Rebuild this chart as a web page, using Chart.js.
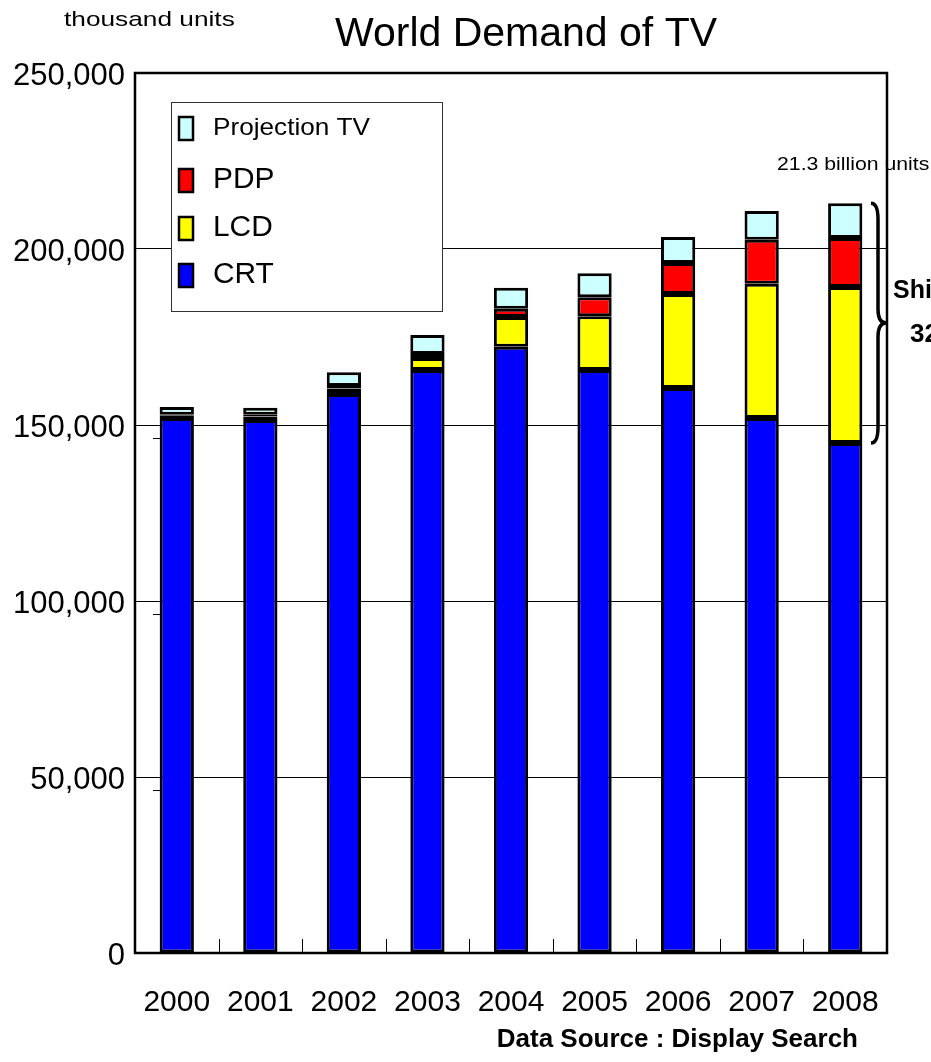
<!DOCTYPE html>
<html>
<head>
<meta charset="utf-8">
<script src="https://cdn.jsdelivr.net/npm/chart.js@4.4.1/dist/chart.umd.min.js"></script>
<style>
  html, body { margin: 0; padding: 0; background: #fff; }
  #grafico { display: block; }
</style>
</head>
<body>
<canvas id="grafico" width="931" height="1062"></canvas>
<script>
// Dados (mil unidades)
const anos = ["2000", "2001", "2002", "2003", "2004", "2005", "2006", "2007", "2008"]
const crt = [152000, 151400, 158800, 165600, 172200, 165600, 160500, 152000, 144900]
const lcd = [600, 1000, 1600, 3400, 8500, 15300, 26700, 38100, 44300]
const pdp = [300, 500, 700, 1200, 2300, 5400, 8800, 12500, 13900]
const projecao = [2200, 2000, 3900, 5400, 6000, 6800, 7400, 8200, 9900]
const yTicks = [0, 50000, 100000, 150000, 200000, 250000]

const fonte = "'Liberation Sans', Arial, sans-serif"

// texto um pouco mais largo, como no original
function textoLargo(ctx, str, x, y, font, sx) {
  ctx.save()
  ctx.font = font
  ctx.translate(x, y)
  ctx.scale(sx, 1)
  ctx.fillText(str, 0, 0)
  ctx.restore()
}

// Titulo, legenda e anotacoes desenhados a mao
const extras = {
  id: "extras",
  afterDraw(chart) {
    const ctx = chart.ctx
    const area = chart.chartArea
    const x = chart.scales.x
    const y = chart.scales.y
    ctx.save()

    // marcas pequenas entre categorias
    ctx.strokeStyle = "#000"
    ctx.lineWidth = 1
    for (let i = 1; i < anos.length; i++) {
      const xm = Math.round((x.getPixelForTick(i - 1) + x.getPixelForTick(i)) / 2) + 0.5
      ctx.beginPath()
      ctx.moveTo(xm, area.bottom)
      ctx.lineTo(xm, area.bottom - 14)
      ctx.stroke()
    }
    // tracinhos do eixo y
    yTicks.slice(1, 4).forEach(v => {
      const yy = Math.round(y.getPixelForValue(v)) + 13.5
      ctx.beginPath()
      ctx.moveTo(area.left + 18, yy)
      ctx.lineTo(area.left + 25, yy)
      ctx.stroke()
    })

    // titulo e unidade
    ctx.fillStyle = "#000"
    ctx.textBaseline = "middle"
    ctx.textAlign = "center"
    ctx.font = "41px " + fonte
    ctx.fillText("World Demand of TV", 526, 35)
    ctx.textAlign = "left"
    textoLargo(ctx, "thousand units", 64, 20, "21px " + fonte, 1.25)

    // legenda
    const lx = area.left + 36, ly = area.top + 29, lw = 271, lh = 209
    ctx.fillStyle = "#fff"
    ctx.fillRect(lx, ly, lw, lh)
    ctx.strokeStyle = "#333"
    ctx.lineWidth = 1
    ctx.strokeRect(lx + 0.5, ly + 0.5, lw, lh)
    const itens = chart.data.datasets.slice().reverse()
    const linhas = [26, 78, 126, 173]
    itens.forEach((ds, i) => {
      const cy = ly + linhas[i]
      ctx.fillStyle = ds.backgroundColor
      ctx.fillRect(lx + 8, cy - 11, 14, 23)
      ctx.strokeStyle = "#000"
      ctx.lineWidth = 2.5
      ctx.strokeRect(lx + 8, cy - 11, 14, 23)
      ctx.fillStyle = "#000"
      ctx.textAlign = "left"
      if (i === 0) textoLargo(ctx, ds.label, lx + 42, cy, "24px " + fonte, 1.09)
      else textoLargo(ctx, ds.label, lx + 42, cy, "29px " + fonte, 1.03)
    })

    // anotacao do total de 2008
    const ult = anos.length - 1
    const topo = y.getPixelForValue(crt[ult] + lcd[ult] + pdp[ult] + projecao[ult])
    const base = y.getPixelForValue(crt[ult])
    ctx.fillStyle = "#000"
    textoLargo(ctx, "21.3 billion units", 777, topo - 38, "18px " + fonte, 1.18)

    // chave
    const meio = (topo + base) / 2
    const bx = area.right - 9
    ctx.strokeStyle = "#000"
    ctx.lineWidth = 3.5
    ctx.beginPath()
    ctx.moveTo(bx - 7, topo)
    ctx.quadraticCurveTo(bx, topo, bx, topo + 16)
    ctx.lineTo(bx, meio - 14)
    ctx.quadraticCurveTo(bx, meio, bx + 8, meio)
    ctx.quadraticCurveTo(bx, meio, bx, meio + 14)
    ctx.lineTo(bx, base - 16)
    ctx.quadraticCurveTo(bx, base, bx - 7, base)
    ctx.stroke()

    ctx.font = "bold 25px " + fonte
    ctx.fillText("Shipment", area.right + 6, meio - 32)
    ctx.font = "bold 26px " + fonte
    ctx.fillText("32%", area.right + 23, meio + 12)

    // moldura da area do grafico
    ctx.strokeStyle = "#000"
    ctx.lineWidth = 2.5
    ctx.strokeRect(area.left, area.top, area.right - area.left, area.bottom - area.top)

    // fonte dos dados
    ctx.font = "bold 26px " + fonte
    ctx.textAlign = "right"
    ctx.fillText("Data Source : Display Search", 858, 1040)
    ctx.restore()
  }
}

const series = [
  { label: "CRT", data: crt, cor: "#0000ff" },
  { label: "LCD", data: lcd, cor: "#ffff00" },
  { label: "PDP", data: pdp, cor: "#ff0000" },
  { label: "Projection TV", data: projecao, cor: "#ccffff" }
]

const ctxGrafico = document.getElementById("grafico").getContext("2d")
new Chart(ctxGrafico, {
  type: "bar",
  data: {
    labels: anos,
    datasets: series.map(s => ({
      label: s.label,
      data: s.data,
      backgroundColor: s.cor,
      borderColor: "#000",
      borderWidth: 3,
      borderSkipped: false,
      barPercentage: 0.41,
      categoryPercentage: 1
    }))
  },
  options: {
    responsive: false,
    animation: false,
    devicePixelRatio: 1,
    layout: { padding: { top: 73, right: 44, left: 0, bottom: 0 } },
    plugins: {
      legend: { display: false },
      title: { display: false },
      tooltip: { enabled: false }
    },
    scales: {
      x: {
        stacked: true,
        afterFit(scale) { scale.height = 109 },
        grid: { display: false },
        border: { display: false },
        ticks: {
          padding: 24,
          color: "#000",
          font: { family: fonte, size: 30 },
          maxRotation: 0
        }
      },
      y: {
        stacked: true,
        min: 0,
        max: 250000,
        afterFit(scale) { scale.width = 135 },
        afterBuildTicks(scale) { scale.ticks = yTicks.map(v => ({ value: v })) },
        grid: { color: "#000", lineWidth: 1, drawTicks: false },
        border: { display: false },
        ticks: {
          padding: 10,
          labelOffset: 3,
          color: "#000",
          font: { family: fonte, size: 31 },
          callback: v => v.toLocaleString("en-US")
        }
      }
    }
  },
  plugins: [extras]
})
</script>
</body>
</html>
